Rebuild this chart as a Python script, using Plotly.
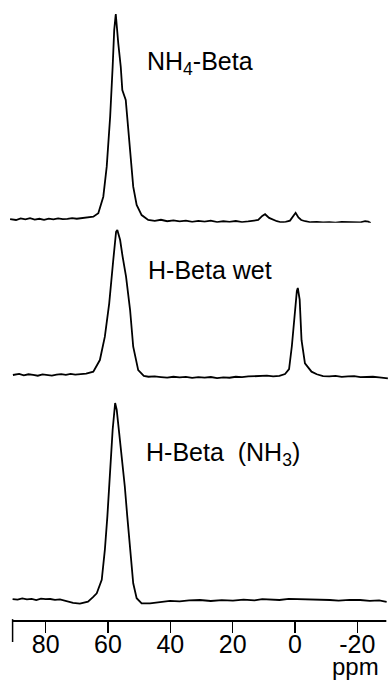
import plotly.graph_objects as go

# ---- data (chemical shift in ppm, relative intensity with main peak = 100) ----
top_ppm = [91.4, 89.5, 88.0, 86.5, 85.0, 83.5, 82.0, 80.5, 79.0, 77.5, 76.0, 74.5, 73.0, 71.5, 70.0, 69.0, 67.0, 64.7, 63.1, 61.5,
           60.4, 59.3, 58.5, 58.0, 57.5, 57.2, 56.7, 55.9, 55.4, 54.3, 53.5, 52.7, 51.9, 50.8, 49.2, 47.1, 45.0, 43.0, 41.0, 39.0,
           37.0, 35.0, 33.0, 31.0, 29.0, 27.0, 25.0, 23.0, 21.0, 19.0, 17.0, 15.0, 13.0, 11.8, 10.5, 9.6, 8.3, 7.0, 5.8, 4.5,
           3.0, 1.6, 0.6, -0.2, -1.1, -2.0, -3.3, -5.0, -7.0, -9.0, -11.0, -13.0, -15.0, -17.0, -19.0, -21.0, -22.5, -23.5, -24.3]
top_int = [0.4, 0.0, 0.8, 0.3, 0.9, 0.2, 0.6, 0.1, 0.7, 0.3, 0.8, 0.4, 0.5, 0.9, 0.6, 0.8, 1.2, 1.6, 3.3, 11.3,
           25.9, 50.1, 74.4, 92.2, 100, 93.8, 85.8, 74.4, 63.1, 58.3, 45.3, 30.7, 16.2, 7.3, 2.4, 0.0, -0.4, 0.1, -0.6, -0.2,
           -0.7, -0.3, -0.9, -0.4, -0.8, -0.3, -1.0, -0.6, -0.9, -0.5, -1.0, -0.7, -0.3, 0.0, 2.0, 2.8, 1.0, 0.0, -0.6, -1.1,
           -0.9, -0.3, 1.5, 3.5, 1.2, 0.0, -0.6, -1.1, -0.9, -1.2, -1.0, -1.3, -0.9, -1.1, -1.0, -1.2, -0.6, -0.8, -1.5]

mid_ppm = [90.5, 88.5, 87.0, 85.5, 84.0, 82.5, 81.0, 79.5, 78.0, 76.5, 75.0, 73.5, 72.0, 70.5, 69.0, 67.0, 64.7, 62.6, 61.0, 59.6,
           58.3, 57.4, 57.0, 56.1, 55.3, 54.2, 52.9, 51.9, 50.3, 48.5, 47.0, 45.0, 43.0, 41.0, 39.0, 37.0, 35.0, 33.0, 31.0, 29.0,
           27.0, 25.0, 23.0, 21.0, 19.0, 17.0, 15.0, 13.0, 11.0, 9.0, 7.0, 5.0, 3.2, 1.9, 1.0, 0.6, 0.0, -0.6, -0.9, -1.5,
           -2.1, -3.2, -5.3, -7.0, -9.0, -11.0, -13.0, -15.0, -17.0, -19.0, -21.0, -23.0, -25.0, -27.0, -28.5, -29.8]
mid_int = [0.0, 0.8, -0.3, 0.5, 0.1, -0.5, 0.4, 0.0, -0.4, 0.3, 0.6, 0.1, 0.7, 0.2, 0.7, 1.0, 2.3, 10.3, 26.4, 49.4,
           79.3, 98.8, 100, 93.1, 81.6, 67.8, 44.8, 19.5, 3.4, -0.6, -1.2, -1.0, -1.4, -1.8, -1.2, -1.6, -1.3, -2.0, -1.5, -1.8,
           -1.4, -2.1, -1.6, -1.9, -1.2, -1.5, -1.0, -0.8, -1.1, -0.5, -0.9, -0.6, 0.7, 4.0, 20.0, 30.0, 45.5, 58.0, 60.0, 52.0,
           24.0, 8.0, 2.3, 0.5, -0.8, -1.0, -0.6, -1.3, -1.0, -0.8, -1.5, -1.1, -1.2, -1.7, -1.9, -2.3]

bot_ppm = [90.6, 89.0, 87.5, 86.0, 84.5, 83.0, 81.5, 80.0, 78.5, 77.0, 75.4, 73.5, 71.2, 69.0, 66.4, 64.8, 63.6, 62.0, 61.0, 60.2,
           59.4, 58.5, 57.7, 57.2, 56.4, 55.6, 54.6, 53.8, 52.9, 51.9, 50.8, 49.2, 46.5, 43.3, 40.1, 37.0, 34.0, 30.5, 27.0, 23.5,
           19.9, 16.5, 13.0, 10.5, 8.0, 5.0, 2.0, -1.6, -4.5, -8.0, -11.2, -14.0, -17.5, -20.9, -24.0, -27.0, -29.4]
bot_int = [0.5, 0.2, 0.8, 0.3, 0.6, 0.0, 0.7, 0.4, 0.5, 0.1, 0.3, -0.6, -1.5, -1.8, -0.8, 1.5, 3.4, 10.2, 25.4, 42.3,
           64.4, 86.4, 100, 96.6, 84.7, 72.9, 57.6, 42.3, 25.4, 8.5, 0.9, -1.7, -1.7, -0.9, -0.4, -0.7, -0.2, 0.0, -0.5, -0.1,
           -0.3, 0.2, -0.2, 0.4, 0.3, 0.0, 0.6, 0.5, 0.2, 0.4, 0.0, -0.3, 0.1, 0.0, -0.4, -0.2, -0.9]

labels = ["NH<sub>4</sub>-Beta", "H-Beta wet", "H-Beta&nbsp;&nbsp;(NH<sub>3</sub>)"]
tick_vals = [80, 60, 40, 20, 0, -20]
tick_text = ["80", "60", "40", "20", "0", "-20"]
x_unit = "ppm"

# ---- layout constants (pixels) ----
W, H = 388, 682
MB = 61
HP = H - MB  # plot area height
FONT = "Liberation Sans, Arial, Helvetica, sans-serif"
LW = 1.8


def dom(base_px, peak_px, lo=-5, hi=105):
    u = (base_px - peak_px) / 100.0
    y_lo = base_px - lo * u
    y_hi = base_px - hi * u
    return [(HP - y_lo) / HP, (HP - y_hi) / HP]


fig = go.Figure()
series = [(top_ppm, top_int, "y"), (mid_ppm, mid_int, "y2"), (bot_ppm, bot_int, "y3")]
for xs, ys, ya in series:
    fig.add_trace(go.Scatter(x=xs, y=ys, yaxis=ya, mode="lines",
                             line=dict(color="black", width=LW, shape="linear"),
                             showlegend=False, hoverinfo="skip"))

yax = dict(range=[-5, 105], visible=False, fixedrange=True)
fig.update_layout(
    width=W, height=H,
    margin=dict(l=0, r=0, t=0, b=MB, pad=0),
    paper_bgcolor="white", plot_bgcolor="white",
    xaxis=dict(range=[94.64, -29.84], anchor="free", position=0,
               showline=False, showgrid=False, zeroline=False,
               tickmode="array", tickvals=tick_vals, ticktext=tick_text,
               ticks="outside", ticklen=11, tickwidth=1.5, tickcolor="black",
               ticklabelstandoff=-10,
               tickfont=dict(family=FONT, size=25, color="black")),
    yaxis=dict(domain=dom(220, 14), **yax),
    yaxis2=dict(domain=dom(375, 230), anchor="x", **yax),
    yaxis3=dict(domain=dom(600, 403), anchor="x", **yax),
)

# axis baseline and left end mark
fig.add_shape(type="line", xref="x", yref="paper", x0=90.6, x1=-29.3, y0=0, y1=0,
              line=dict(color="black", width=2))
fig.add_shape(type="line", xref="x", yref="paper", x0=90.6, x1=90.6, y0=0.003, y1=-21 / HP,
              line=dict(color="black", width=1.5))

# spectrum labels
label_pos = [(145, 63), (146, 270), (144, 454)]
for txt, (px, py) in zip(labels, label_pos):
    fig.add_annotation(text=txt, xref="paper", yref="paper", x=px / W, y=(HP - py) / HP,
                       xanchor="left", yanchor="middle", showarrow=False,
                       font=dict(family=FONT, size=25, color="black"))

fig.add_annotation(text=x_unit, xref="paper", yref="paper", x=355 / W, y=(HP - 666) / HP,
                   xanchor="center", yanchor="middle", showarrow=False,
                   font=dict(family=FONT, size=24, color="black"))

fig.write_html("out.html",
               config={"displayModeBar": False, "staticPlot": True},
               post_script="document.body.style.margin='0';document.body.style.overflow='hidden';")
